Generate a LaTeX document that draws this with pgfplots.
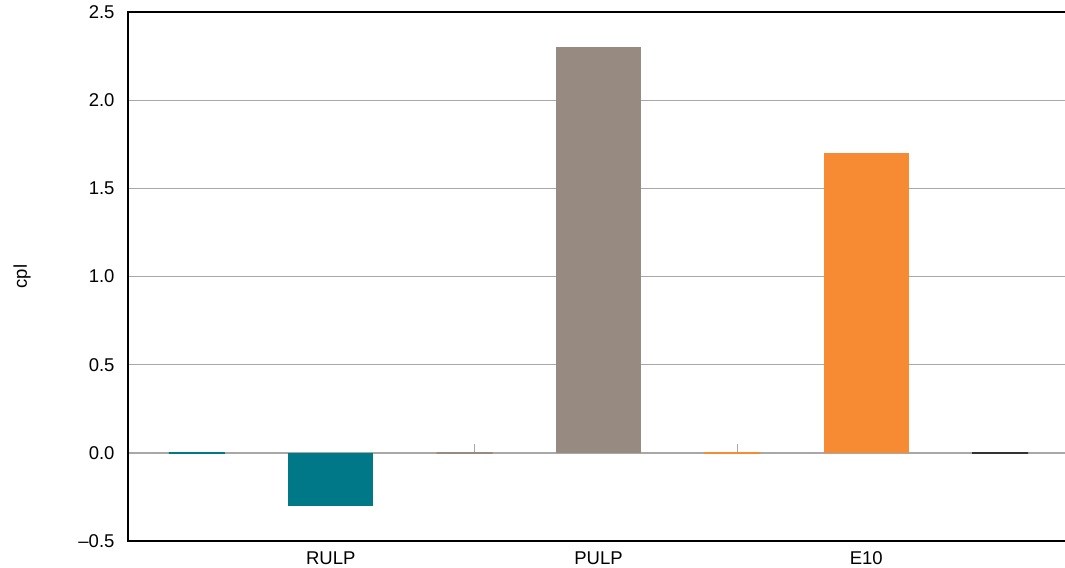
\documentclass[border=0pt]{standalone}
\usepackage{fontspec}
\setmainfont{Liberation Sans}
\usepackage{pgfplots}
\pgfplotsset{compat=1.18}
\definecolor{cteal}{HTML}{007887}
\definecolor{cgray}{HTML}{978A80}
\definecolor{corange}{HTML}{F68B33}
\definecolor{cdark}{HTML}{333333}
\definecolor{cgrid}{HTML}{A8A8A8}
\begin{document}
\begin{tikzpicture}
\begin{axis}[
  scale only axis,
  width=937pt, height=529pt,
  xmin=-0.515, xmax=6.485,
  ymin=-0.5, ymax=2.5,
  axis line style={draw=none},
  xtick={1,3,5},
  xticklabels={RULP,PULP,E10},
  ytick={-0.5,0,0.5,1,1.5,2,2.5},
  yticklabels={\textendash0.5,0.0,0.5,1.0,1.5,2.0,2.5},
  major tick length=0pt,
  tick label style={font=\fontsize{18.5}{22}\selectfont},
  yticklabel style={xshift=-10pt},
  xticklabel style={anchor=base, yshift=-24pt, inner sep=0pt},
  ymajorgrids,
  grid style={cgrid, line width=0.8pt},
  ybar, bar shift=0pt,
  clip=false,
]
\draw[cgrid, line width=2pt] (axis cs:-0.515,0) -- (axis cs:6.485,0);
\draw[cgrid, line width=0.8pt] (axis cs:2.07,0) -- ++(0pt,9pt);
\draw[cgrid, line width=0.8pt] (axis cs:4.04,0) -- ++(0pt,9pt);
% value bars
\addplot[fill=cteal, draw=none, bar width=85pt] coordinates {(1,-0.3)};
\addplot[fill=cgray, draw=none, bar width=85pt] coordinates {(3,2.3)};
\addplot[fill=corange, draw=none, bar width=85pt] coordinates {(5,1.7)};
% zero bars
\addplot[fill=cteal, draw=cteal, line width=1.5pt, bar width=56pt] coordinates {(0,0)};
\addplot[fill=cgray, draw=cgray, line width=1.5pt, bar width=56pt] coordinates {(2,0)};
\addplot[fill=corange, draw=corange, line width=1.5pt, bar width=56pt] coordinates {(4,0)};
\addplot[fill=cdark, draw=cdark, line width=1.5pt, bar width=56pt] coordinates {(6,0)};
\draw[black, line width=2pt] (rel axis cs:1,1) -- (rel axis cs:0,1) -- (rel axis cs:0,0) -- (rel axis cs:1,0);
\end{axis}
\node[rotate=90, font=\fontsize{18.5}{22}\selectfont] at ([xshift=-106pt]current axis.west) {cpl};
\pgfresetboundingbox
\path[use as bounding box] ([xshift=-128pt,yshift=-27pt]current axis.south west) rectangle ([yshift=12pt]current axis.north east);
\end{tikzpicture}
\end{document}
